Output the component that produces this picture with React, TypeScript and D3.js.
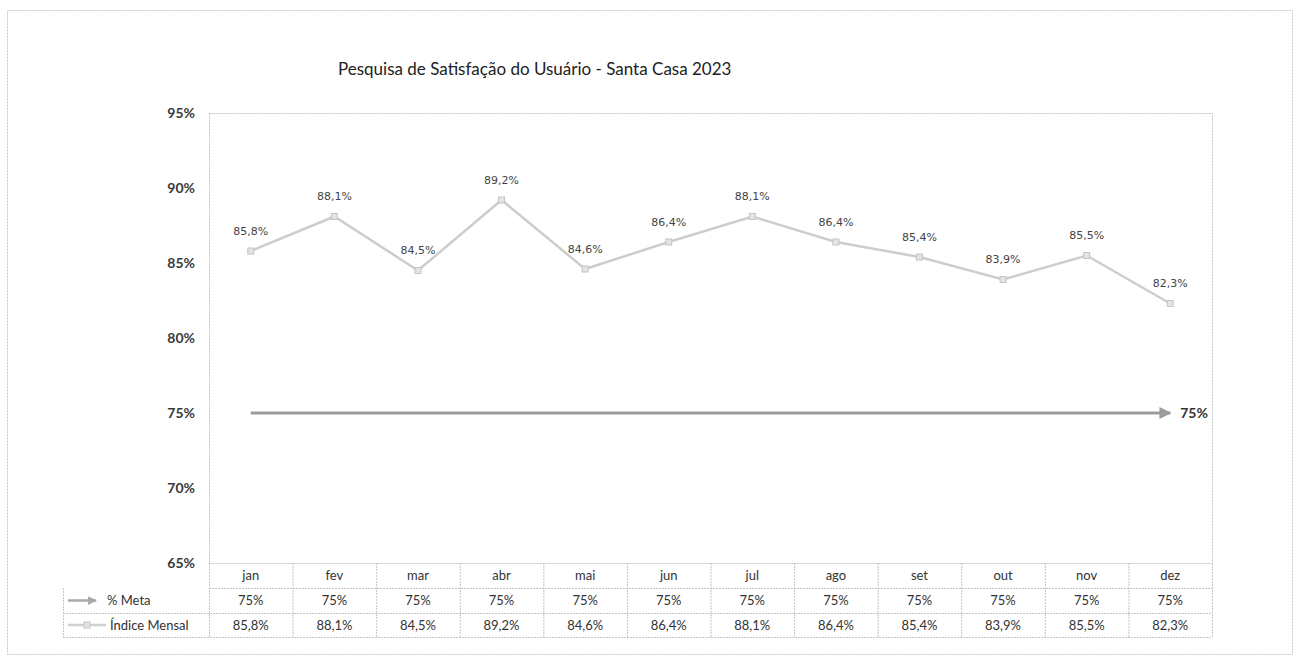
import React from "react";
import * as d3 from "d3";

const months = ["jan", "fev", "mar", "abr", "mai", "jun", "jul", "ago", "set", "out", "nov", "dez"];
const indiceMensal = [85.8, 88.1, 84.5, 89.2, 84.6, 86.4, 88.1, 86.4, 85.4, 83.9, 85.5, 82.3];
const meta = [75, 75, 75, 75, 75, 75, 75, 75, 75, 75, 75, 75];
const yTicks = [65, 70, 75, 80, 85, 90, 95];
const title = "Pesquisa de Satisfação do Usuário - Santa Casa 2023";
const seriesNames = ["% Meta", "Índice Mensal"];

const W = 1299;
const H = 657;
const plotL = 209, plotR = 1212, plotT = 113, plotB = 563;
const rowH = [25, 25, 24];
const tableL = 63;

const fmt = (v: number) => (Number.isInteger(v) ? `${v}%` : `${v.toFixed(1).replace(".", ",")}%`);

export default function App() {
  const x = d3.scaleBand<string>().domain(months).range([plotL, plotR]);
  const y = d3.scaleLinear().domain([65, 95]).range([plotB, plotT]);
  const cx = (m: string) => (x(m) as number) + x.bandwidth() / 2;
  const line = d3
    .line<number>()
    .x((_, i) => cx(months[i]))
    .y((d) => y(d));

  const row1 = plotB + rowH[0];
  const row2 = row1 + rowH[1];
  const row3 = row2 + rowH[2];
  const borderCol = "#c4c4c4";
  const tableFont = "Lato, 'Open Sans', sans-serif";

  const metaStart = cx(months[0]);
  const metaEnd = cx(months[months.length - 1]);

  return (
    <svg width={W} height={H} style={{ position: "absolute", left: 0, top: 0, background: "#fff" }}>
      <defs>
        <marker id="arr" viewBox="0 0 10 10" refX="9" refY="5" markerWidth="4" markerHeight="4" orient="auto" markerUnits="strokeWidth">
          <path d="M0,0 L10,5 L0,10 z" fill="#9c9c9c" />
        </marker>
        <marker id="arrSmall" viewBox="0 0 10 10" refX="9" refY="5" markerWidth="3.5" markerHeight="3.5" orient="auto" markerUnits="strokeWidth">
          <path d="M0,0 L10,5 L0,10 z" fill="#a8a8a8" />
        </marker>
      </defs>
      {/* outer border */}
      <rect x={7.5} y={10.5} width={1285} height={644} fill="#fff" stroke="#c8c8c8" strokeDasharray="2 1" />
      {/* title */}
      <text x={338} y={75} fontFamily="Lato, 'Open Sans', sans-serif" fontSize={17} fill="#222">
        {title}
      </text>
      {/* plot border */}
      <rect x={plotL + 0.5} y={plotT + 0.5} width={plotR - plotL} height={plotB - plotT} fill="none" stroke={borderCol} strokeDasharray="2 1" />
      {/* y axis labels */}
      {yTicks.map((t) => (
        <text key={t} x={195} y={y(t)} dy="0.35em" textAnchor="end" fontFamily={tableFont} fontWeight={700} fontSize={14} fill="#3a3a3a">
          {t}%
        </text>
      ))}
      {/* data table grid */}
      {[row1, row2, row3].map((ry, i) => (
        <line key={"h" + i} x1={i === 0 ? plotL : tableL} x2={plotR} y1={ry + 0.5} y2={ry + 0.5} stroke={borderCol} strokeDasharray="2 1" />
      ))}
      <line x1={tableL + 0.5} x2={tableL + 0.5} y1={row1} y2={row3} stroke={borderCol} strokeDasharray="2 1" />
      {months.map((m) => (
        <line key={"v" + m} x1={(x(m) as number) + x.bandwidth() + 0.5} x2={(x(m) as number) + x.bandwidth() + 0.5} y1={plotB} y2={row3} stroke={borderCol} strokeDasharray="2 1" />
      ))}
      <line x1={plotL + 0.5} x2={plotL + 0.5} y1={plotB} y2={row3} stroke={borderCol} strokeDasharray="2 1" />
      {/* table text */}
      {months.map((m, i) => (
        <g key={"t" + m} fontFamily={tableFont} fontSize={13} fill="#333" textAnchor="middle">
          <text x={cx(m)} y={(plotB + row1) / 2} dy="0.35em">{m}</text>
          <text x={cx(m)} y={(row1 + row2) / 2} dy="0.35em">{fmt(meta[i])}</text>
          <text x={cx(m)} y={(row2 + row3) / 2} dy="0.35em">{fmt(indiceMensal[i])}</text>
        </g>
      ))}
      {/* legend keys */}
      <line x1={68} x2={96} y1={(row1 + row2) / 2} y2={(row1 + row2) / 2} stroke="#a8a8a8" strokeWidth={2.5} markerEnd="url(#arrSmall)" />
      <text x={107} y={(row1 + row2) / 2} dy="0.35em" fontFamily={tableFont} fontSize={13} fill="#333">{seriesNames[0]}</text>
      <line x1={68} x2={106} y1={(row2 + row3) / 2} y2={(row2 + row3) / 2} stroke="#cfcfcf" strokeWidth={2.5} />
      <rect x={84} y={(row2 + row3) / 2 - 3} width={6} height={6} fill="#e2e2e2" stroke="#c4c4c4" />
      <text x={110} y={(row2 + row3) / 2} dy="0.35em" fontFamily={tableFont} fontSize={13} fill="#333">{seriesNames[1]}</text>
      {/* meta arrow */}
      <line x1={metaStart} x2={metaEnd} y1={y(meta[0])} y2={y(meta[meta.length - 1])} stroke="#9c9c9c" strokeWidth={3} markerEnd="url(#arr)" />
      <text x={metaEnd + 10} y={y(meta[meta.length - 1])} dy="0.35em" fontFamily={tableFont} fontWeight={700} fontSize={14} fill="#333">
        {fmt(meta[meta.length - 1])}
      </text>
      {/* indice line */}
      <path d={line(indiceMensal) as string} fill="none" stroke="#cdcdcd" strokeWidth={2.5} />
      {indiceMensal.map((v, i) => (
        <rect key={"p" + i} x={cx(months[i]) - 3} y={y(v) - 3} width={6} height={6} fill="#e4e4e4" stroke="#c4c4c4" strokeWidth={1} />
      ))}
      {indiceMensal.map((v, i) => (
        <text key={"l" + i} x={cx(months[i])} y={y(v) - 20} dy="0.35em" textAnchor="middle" fontFamily="'DejaVu Sans', Verdana, sans-serif" fontSize={11} fill="#444">
          {fmt(v)}
        </text>
      ))}
    </svg>
  );
}
